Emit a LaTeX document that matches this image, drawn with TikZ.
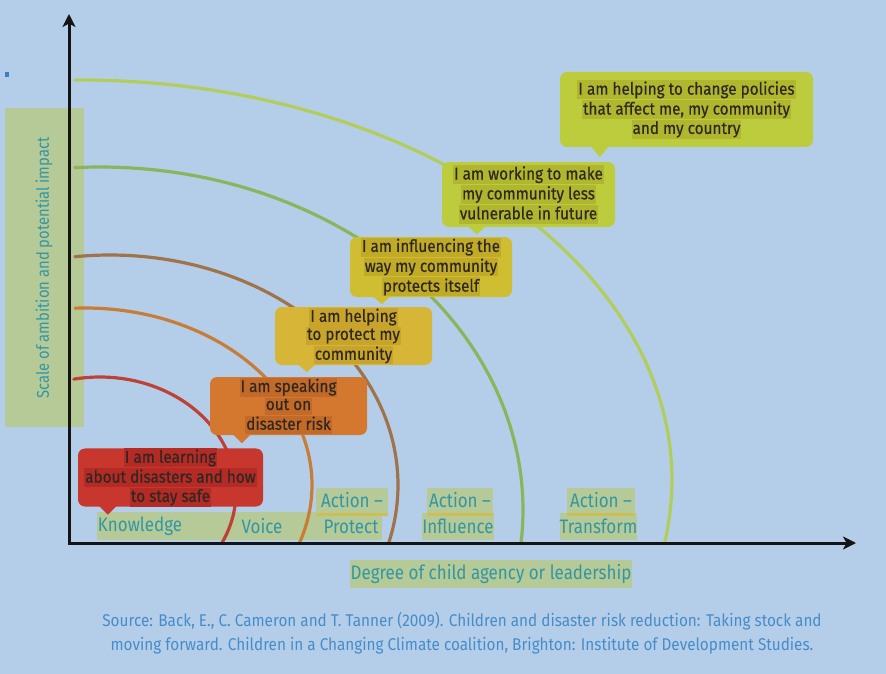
\documentclass[tikz,border=0pt]{standalone}
\usepackage{fontspec}
\setmainfont{Fira Sans}[FakeStretch=0.9]
\newfontfamily\callfont{Fira Sans}[FakeStretch=0.9, FakeBold=0.4]
\newfontfamily\labfont{Fira Sans}[FakeStretch=0.87]
\newfontfamily\srcfont{Fira Sans}[FakeStretch=0.9]
\usetikzlibrary{arrows.meta,calc}

% palette
\definecolor{bg}{RGB}{180,206,234}
\definecolor{ink}{RGB}{45,40,35}
\definecolor{teal}{RGB}{50,150,165}
\definecolor{labbox}{RGB}{182,202,152}
\definecolor{goldline}{RGB}{205,190,85}
\definecolor{srcblue}{RGB}{70,140,200}
\definecolor{dotblue}{RGB}{60,125,195}
\definecolor{redbox}{RGB}{200,55,45}
\definecolor{redhl}{RGB}{180,42,36}
\definecolor{orangebox}{RGB}{212,120,48}
\definecolor{orangehl}{RGB}{196,106,40}
\definecolor{goldbox}{RGB}{215,182,55}
\definecolor{goldhl}{RGB}{200,165,42}
\definecolor{olivebox}{RGB}{207,190,50}
\definecolor{olivehl}{RGB}{192,170,38}
\definecolor{limebox}{RGB}{188,204,60}
\definecolor{limehl}{RGB}{176,182,45}
\definecolor{arcred}{RGB}{190,65,55}
\definecolor{arcorange}{RGB}{200,125,55}
\definecolor{arcbrown}{RGB}{160,115,75}
\definecolor{arcgreen}{RGB}{140,180,90}
\definecolor{arclime}{RGB}{178,205,90}

% highlighted line inside a callout
\setlength{\fboxsep}{1pt}
\newcommand\hl[1]{\colorbox{hlc}{\rule[-3.5pt]{0pt}{15pt}#1}}

\tikzset{
  callout/.style 2 args={rounded corners=7pt, fill=#1, text=ink, align=center,
    inner sep=0pt, font=\callfont\fontsize{17}{18}\selectfont,
    execute at begin node={\colorlet{hlc}{#2}}},
  lab/.style={text=teal, inner sep=0pt, font=\labfont\fontsize{19.5}{20}\selectfont},
  labfill/.style={lab, fill=labbox},
  arc/.style={line width=3.2pt, line cap=round},
  axis/.style={line width=3pt, draw=black!92},
}

% pointer under a callout: node, offset from left edge, colour, drop
\newcommand\pointer[4]{%
  \fill[#3] ($(#1.south west)+(#2-9,-1)$) -- ($(#1.south west)+(#2+9,-1)$)
     -- ($(#1.south west)+(#2,#4)$) -- cycle;}

% quarter ring: centre x, centre y, x radius, y radius, start angle, end angle
\newcommand\ring[7]{%
  \draw[arc, #1] plot[domain=#6:#7, samples=80, smooth]
    ({#2+#4*cos(\x)}, {#3-#5*sin(\x)});}

\begin{document}
\begin{tikzpicture}[x=1pt,y=-1pt]
\useasboundingbox (0,0) rectangle (886,674);
\fill[bg] (0,0) rectangle (886,674);

% small mark at the left edge
\fill[dotblue] (5,72) rectangle (9,77);

% label backgrounds
\fill[labbox] (5,108) rectangle (84,427);
\fill[labbox] (97,512) rectangle (322,540);

% bottom labels
\node[lab] (know) at (140,526) {Knowledge};
\node[lab] (voice) at (262,526) {Voice};
\node[labfill, minimum width=72, minimum height=25] (ap) at (352,500.5) {Action –};
\node[labfill, minimum width=62, minimum height=27] (pp) at (351,526.5) {Protect};
\node[labfill, minimum width=66, minimum height=25] (ai) at (460,500.5) {Action –};
\node[labfill, minimum width=70, minimum height=27] (ii) at (458,526.5) {Influence};
\node[labfill, minimum width=68, minimum height=25] (at) at (601,500.5) {Action –};
\node[labfill, minimum width=77, minimum height=27] (tt) at (598.5,526.5) {Transform};
\fill[goldline] (ap.south west) rectangle ($(ap.south east)+(0,2.5)$);
\fill[goldline] (ai.south west) rectangle ($(ai.south east)+(0,2.5)$);
\fill[goldline] (at.south west) rectangle ($(at.south east)+(0,2.5)$);

% rings of ambition
\ring{arcred}{100}{492}{136}{115}{101.1}{-26.3}
\ring{arcorange}{85}{485}{227}{177}{92.5}{-19.1}
\ring{arcbrown}{110}{485}{288}{230}{97}{-14.6}
\ring{arcgreen}{100}{510}{423}{343}{93.4}{-5.5}
\ring{arclime}{80}{480}{592}{400}{90.5}{-9.06}

% callouts
\node[callout={redbox}{redhl}, minimum width=185, minimum height=55] (c1) at (170.5,477.5)
  {\hl{I am learning}\\\hl{about disasters and how}\\\hl{to stay safe}};
\pointer{c1}{30}{redbox}{8}
\node[callout={orangebox}{orangehl}, minimum width=157, minimum height=58] (c2) at (288.5,406)
  {\hl{I am speaking}\\\hl{out on}\\\hl{disaster risk}};
\pointer{c2}{32}{orangebox}{8}
\node[callout={goldbox}{goldhl}, minimum width=157, minimum height=58] (c3) at (353.5,336)
  {\hl{I am helping}\\\hl{to protect my}\\\hl{community}};
\pointer{c3}{32}{goldbox}{7}
\node[callout={olivebox}{olivehl}, minimum width=162, minimum height=60] (c4) at (431,267)
  {\hl{I am influencing the}\\\hl{way my community}\\\hl{protects itself}};
\pointer{c4}{32}{olivebox}{7}
\node[callout={limebox}{limehl}, minimum width=173, minimum height=65] (c5) at (528.5,194.5)
  {\hl{I am working to make}\\\hl{my community less}\\\hl{vulnerable in future}};
\pointer{c5}{35}{limebox}{7}
\node[callout={limebox}{limehl}, minimum width=253, minimum height=75] (c6) at (686.5,109.5)
  {\hl{I am helping to change policies}\\\hl{that affect me, my community}\\\hl{and my country}};
\pointer{c6}{40}{limebox}{10}

% axes
\coordinate (O) at (69,543);
\coordinate (ytip) at (69,14);
\coordinate (xtip) at (856,543);
\draw[axis, {Stealth[length=13pt,width=13pt,inset=3.5pt]}-{Stealth[length=13pt,width=13pt,inset=3.5pt]}]
  (ytip) |- (xtip);

% axis titles
\node[text=teal, inner sep=0pt, font=\labfont\fontsize{17}{20}\selectfont, rotate=90] (ylab) at (44,268)
  {Scale of ambition and potential impact};
\node[labfill, minimum width=282, minimum height=28] (xlab) at (491,574)
  {Degree of child agency or leadership};

% source note
\node[text=srcblue, align=center, font=\srcfont\fontsize{17}{24}\selectfont] (src) at (462,633)
  {Source: Back, E., C. Cameron and T. Tanner (2009). Children and disaster risk reduction: Taking stock and\\
   moving forward. Children in a Changing Climate coalition, Brighton: Institute of Development Studies.};
\end{tikzpicture}
\end{document}
